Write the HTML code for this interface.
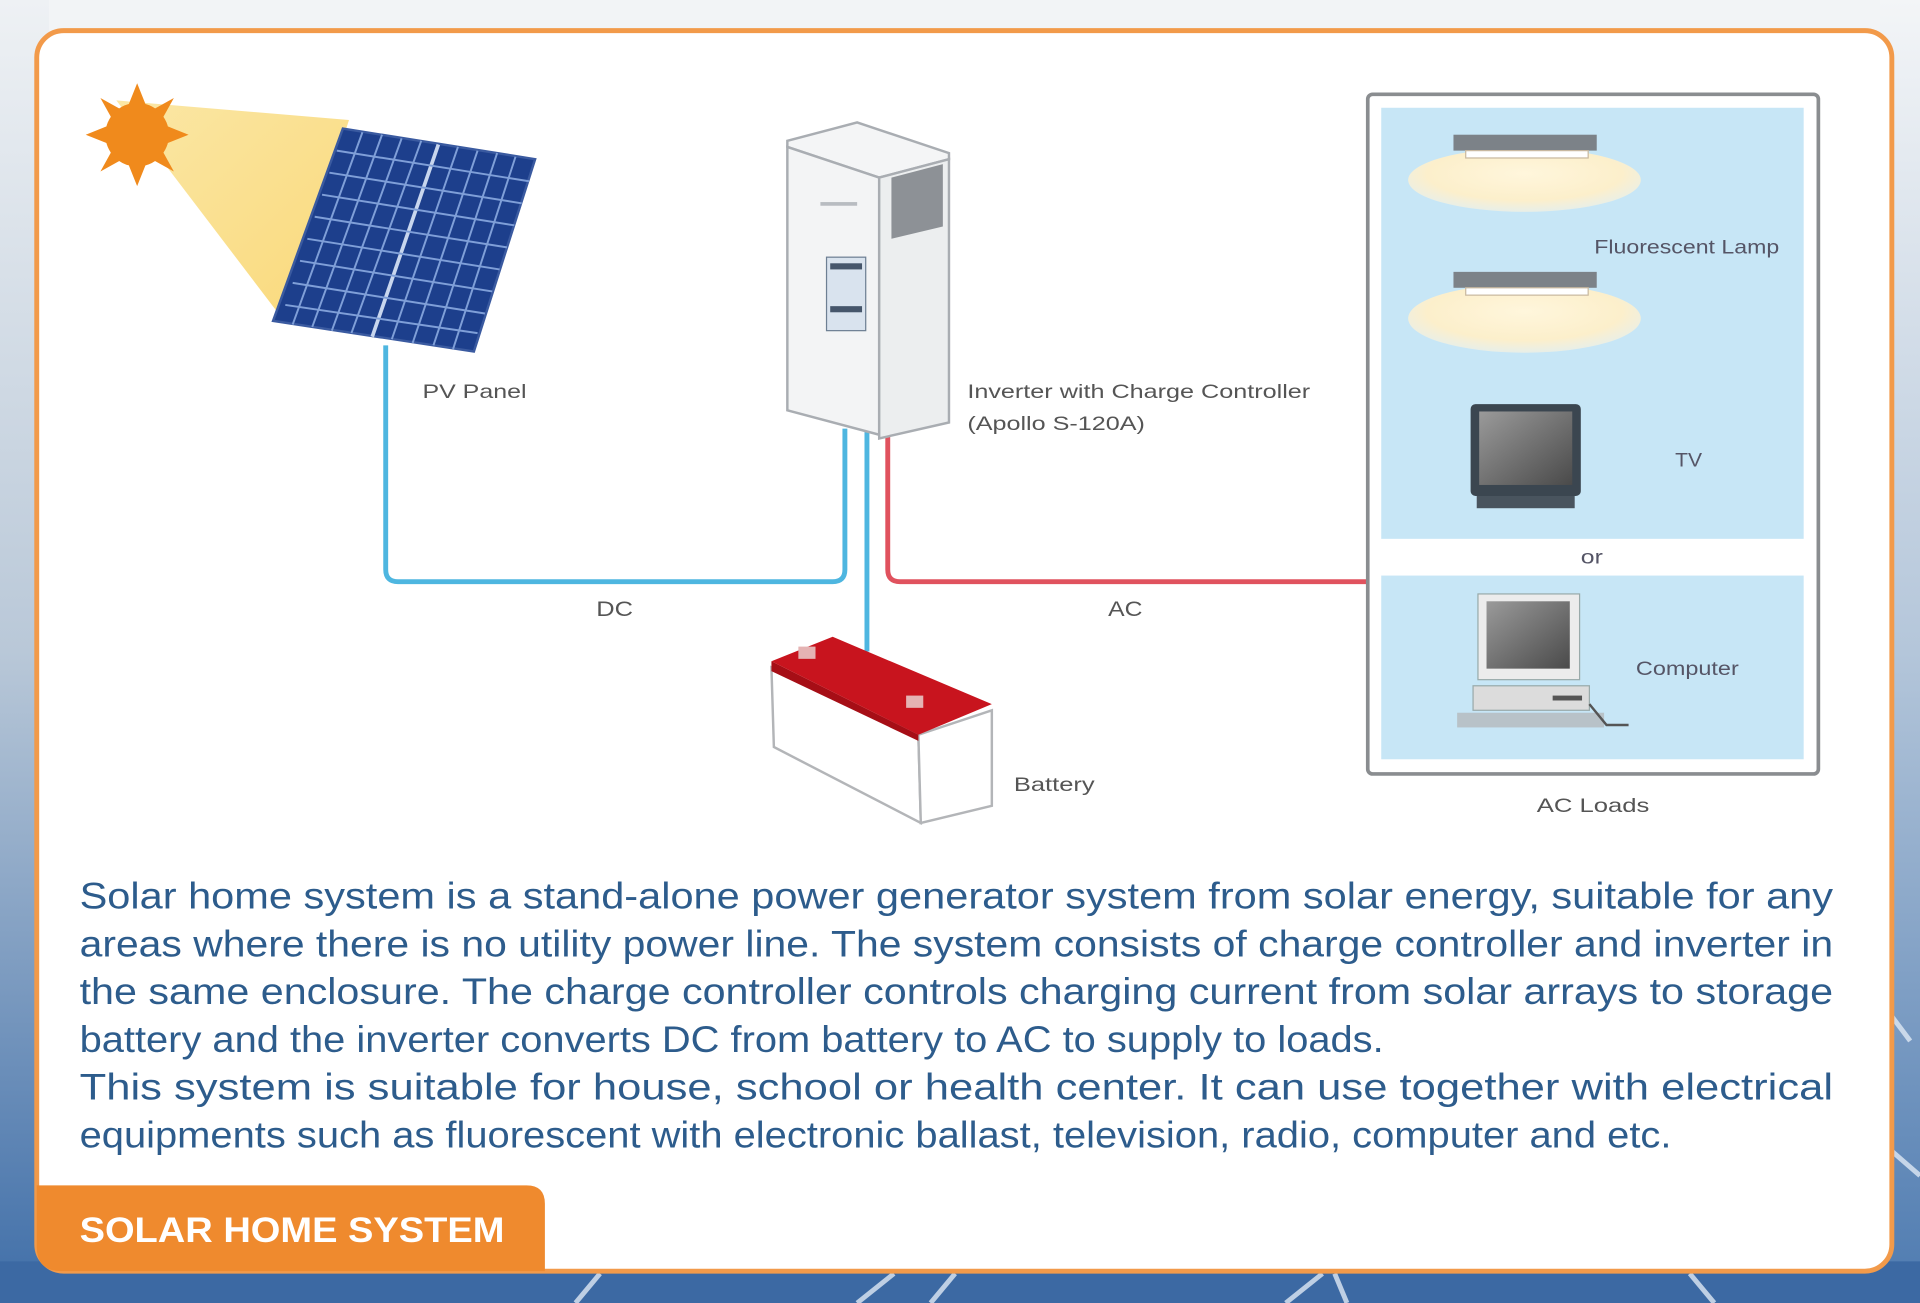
<!DOCTYPE html>
<html><head><meta charset="utf-8"><style>
html,body{margin:0;padding:0;width:1920px;height:1303px;overflow:hidden;background:#fff}
svg{display:block}
text{font-family:"Liberation Sans",Arial,sans-serif}
</style></head><body>
<svg width="1920" height="1303" viewBox="0 0 1568 1064" preserveAspectRatio="none" xmlns="http://www.w3.org/2000/svg">
<defs>
<linearGradient id="bgL" x1="0" y1="0" x2="0" y2="1">
<stop offset="0" stop-color="#eef1f4"/><stop offset="0.5" stop-color="#b9c8d8"/><stop offset="1" stop-color="#3f6ea8"/></linearGradient>
<linearGradient id="bgR" x1="0" y1="0" x2="0" y2="1">
<stop offset="0" stop-color="#f3f5f7"/><stop offset="0.5" stop-color="#b4c6da"/><stop offset="1" stop-color="#4d7ab0"/></linearGradient>
<linearGradient id="beam" x1="0" y1="0" x2="1" y2="1">
<stop offset="0" stop-color="#fbe7a6"/><stop offset="1" stop-color="#f9d97a"/></linearGradient>
<radialGradient id="glow" cx="0.5" cy="0.4" r="0.6">
<stop offset="0" stop-color="#fff6dc"/><stop offset="0.7" stop-color="#fcefcb"/><stop offset="1" stop-color="#fdf4de" stop-opacity="0.6"/></radialGradient>
<linearGradient id="scr" x1="0" y1="0" x2="1" y2="1">
<stop offset="0" stop-color="#9a9a9a"/><stop offset="1" stop-color="#4a4a4a"/></linearGradient>
</defs>
<rect x="0" y="0" width="1568" height="1064" fill="#f2f4f6"/>
<rect x="0" y="0" width="40" height="1064" fill="url(#bgL)"/>
<rect x="1535" y="0" width="33" height="1064" fill="url(#bgR)"/>
<rect x="0" y="1030" width="1568" height="34" fill="#3c69a3"/>
<g stroke="#dfe9f5" stroke-width="4" opacity="0.8">
<line x1="470" y1="1064" x2="490" y2="1040"/><line x1="700" y1="1064" x2="730" y2="1040"/>
<line x1="760" y1="1064" x2="780" y2="1040"/><line x1="1050" y1="1064" x2="1080" y2="1040"/>
<line x1="1100" y1="1064" x2="1090" y2="1040"/><line x1="1400" y1="1064" x2="1380" y2="1040"/>
<line x1="1560" y1="850" x2="1545" y2="830"/><line x1="1568" y1="960" x2="1545" y2="940"/>
</g>
<rect x="30" y="25" width="1515" height="1013" rx="22" fill="#fff" stroke="#f29a4a" stroke-width="4"/>
<polygon points="95,82 285,98 232,262" fill="url(#beam)"/>
<g fill="#f08a1c">
<polygon points="112,68 120,88 104,88"/><polygon points="112,152 120,132 104,132"/>
<polygon points="70,110 90,102 90,118"/><polygon points="154,110 134,102 134,118"/>
<polygon points="82,80 100,90 92,98"/><polygon points="142,80 124,90 132,98"/>
<polygon points="82,140 100,130 92,122"/><polygon points="142,140 124,130 132,122"/>
<circle cx="112" cy="110" r="26"/>
</g>
<polygon points="280,105 437,130 387,287 223,262" fill="#1d3f8c" stroke="#3a5aa0" stroke-width="2"/>
<g stroke="#7f9fd8" stroke-width="1.6">
<line x1="296" y1="108" x2="239" y2="265"/><line x1="312" y1="110" x2="255" y2="267"/>
<line x1="328" y1="113" x2="271" y2="270"/><line x1="344" y1="115" x2="287" y2="272"/>
<line x1="358" y1="118" x2="304" y2="275" stroke="#c8d6ee" stroke-width="3"/>
<line x1="374" y1="120" x2="320" y2="277"/><line x1="390" y1="123" x2="337" y2="280"/>
<line x1="406" y1="125" x2="354" y2="282"/><line x1="421" y1="128" x2="370" y2="285"/>
<line x1="275" y1="123" x2="432" y2="148"/><line x1="269" y1="141" x2="426" y2="166"/>
<line x1="263" y1="159" x2="420" y2="184"/><line x1="257" y1="177" x2="414" y2="202"/>
<line x1="251" y1="195" x2="408" y2="220"/><line x1="245" y1="213" x2="402" y2="238"/>
<line x1="239" y1="231" x2="396" y2="256"/><line x1="233" y1="249" x2="390" y2="272"/>
</g>
<path d="M315,282 V465 Q315,475 325,475 H680 Q690,475 690,465 V350" fill="none" stroke="#4eb6e0" stroke-width="4"/>
<path d="M708,350 V532" fill="none" stroke="#4eb6e0" stroke-width="4"/>
<path d="M725,355 V465 Q725,475 735,475 H1117" fill="none" stroke="#e0525e" stroke-width="4"/>
<polygon points="643,115 700,100 775,125 775,130 718,145 643,120" fill="#f4f5f6" stroke="#a9adb2" stroke-width="2"/>
<polygon points="643,120 718,145 718,355 643,335" fill="#f3f4f5" stroke="#a9adb2" stroke-width="2"/>
<polygon points="718,145 775,130 775,345 718,358" fill="#eceeef" stroke="#a9adb2" stroke-width="2"/>
<polygon points="728,145 770,134 770,185 728,195" fill="#8d9196"/>
<rect x="675" y="210" width="32" height="60" fill="#d9e3ee" stroke="#6d7f93" stroke-width="1"/>
<rect x="678" y="215" width="26" height="5" fill="#46566b"/><rect x="678" y="250" width="26" height="5" fill="#46566b"/>
<rect x="670" y="165" width="30" height="3" fill="#b8bcc1"/>
<polygon points="630,545 750,600 752,672 632,610" fill="#fff" stroke="#b3b5b8" stroke-width="2"/>
<polygon points="750,600 810,580 810,658 752,672" fill="#fff" stroke="#b3b5b8" stroke-width="2"/>
<polygon points="630,540 680,520 810,575 750,600" fill="#c8141e"/>
<polygon points="630,540 750,600 750,605 630,548" fill="#a60e16"/>
<rect x="652" y="528" width="14" height="10" fill="#e5b3b3"/>
<rect x="740" y="568" width="14" height="10" fill="#e5b3b3"/>
<g font-size="16" fill="#555" lengthAdjust="spacingAndGlyphs">
<text x="345" y="325" textLength="85" lengthAdjust="spacingAndGlyphs">PV Panel</text>
<text x="790" y="325" textLength="280" lengthAdjust="spacingAndGlyphs">Inverter with Charge Controller</text>
<text x="790" y="351" textLength="145" lengthAdjust="spacingAndGlyphs">(Apollo S-120A)</text>
<text x="487" y="503" font-size="17" textLength="30" lengthAdjust="spacingAndGlyphs">DC</text>
<text x="905" y="503" font-size="17" textLength="28" lengthAdjust="spacingAndGlyphs">AC</text>
<text x="828" y="646" textLength="66" lengthAdjust="spacingAndGlyphs">Battery</text>
<text x="1255" y="663" textLength="92" lengthAdjust="spacingAndGlyphs">AC Loads</text>
</g>
<rect x="1117" y="77" width="368" height="555" rx="4" fill="#fff" stroke="#8a8d90" stroke-width="3"/>
<rect x="1128" y="88" width="345" height="352" fill="#c7e6f6"/>
<rect x="1128" y="470" width="345" height="150" fill="#c7e6f6"/>
<ellipse cx="1245" cy="147" rx="95" ry="26" fill="url(#glow)"/>
<rect x="1187" y="110" width="117" height="13" fill="#7c8288"/><rect x="1197" y="123" width="100" height="6" fill="#fff" stroke="#c9b9a0"/>
<ellipse cx="1245" cy="260" rx="95" ry="28" fill="url(#glow)"/>
<rect x="1187" y="222" width="117" height="13" fill="#7c8288"/><rect x="1197" y="235" width="100" height="6" fill="#fff" stroke="#c9b9a0"/>
<rect x="1201" y="330" width="90" height="75" rx="4" fill="#3b4650"/>
<rect x="1208" y="336" width="76" height="60" fill="url(#scr)"/>
<rect x="1206" y="405" width="80" height="10" fill="#49545e"/>
<rect x="1207" y="485" width="83" height="70" fill="#ececec" stroke="#9aa" stroke-width="1"/>
<rect x="1214" y="491" width="68" height="55" fill="url(#scr)"/>
<rect x="1203" y="560" width="95" height="20" fill="#dcdcdc" stroke="#9aa"/>
<rect x="1190" y="582" width="120" height="12" fill="#b8c2c8"/>
<rect x="1268" y="568" width="24" height="4" fill="#555"/>
<path d="M1298,575 L1312,592 H1330" stroke="#555" fill="none" stroke-width="2"/>
<g font-size="16" fill="#556">
<text x="1302" y="207" textLength="151" lengthAdjust="spacingAndGlyphs">Fluorescent Lamp</text>
<text x="1368" y="381" textLength="22" lengthAdjust="spacingAndGlyphs">TV</text>
<text x="1291" y="460" textLength="18" lengthAdjust="spacingAndGlyphs">or</text>
<text x="1336" y="551" textLength="84" lengthAdjust="spacingAndGlyphs">Computer</text>
</g>
<g font-size="30" fill="#2d5c8c">
<text x="65" y="742" textLength="1432" lengthAdjust="spacingAndGlyphs">Solar home system is a stand-alone power generator system from solar energy, suitable for any</text>
<text x="65" y="781" textLength="1432" lengthAdjust="spacingAndGlyphs">areas where there is no utility power line.  The system consists of charge controller and inverter in</text>
<text x="65" y="820" textLength="1432" lengthAdjust="spacingAndGlyphs">the same enclosure.  The charge controller controls charging current from solar arrays to storage</text>
<text x="65" y="859" textLength="1065" lengthAdjust="spacingAndGlyphs">battery and the inverter converts DC from battery to AC to supply to loads.</text>
<text x="65" y="898" textLength="1432" lengthAdjust="spacingAndGlyphs">This system is suitable for house, school or health center.  It can use together with electrical</text>
<text x="65" y="937" textLength="1300" lengthAdjust="spacingAndGlyphs">equipments such as fluorescent with electronic ballast, television, radio, computer and etc.</text>
</g>
<path d="M30,968 H430 Q445,968 445,983 V1038 H50 Q30,1038 30,1018 Z" fill="#ef8a2e"/>
<text x="65" y="1014" font-size="29" font-weight="bold" fill="#fff" textLength="347" lengthAdjust="spacingAndGlyphs">SOLAR HOME SYSTEM</text>
</svg>
</body></html>
